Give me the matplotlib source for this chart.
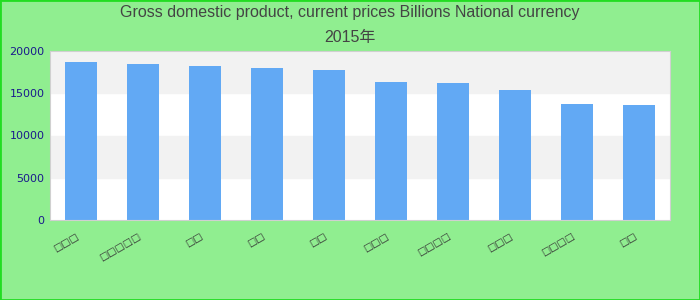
import matplotlib
matplotlib.use("Agg")
import matplotlib.pyplot as plt
from matplotlib.patches import Rectangle

# labels in the reference are unreadable (missing glyphs), char counts kept
labels = ["□□□", "□□□□□", "□□", "□□", "□□", "□□□", "□□□□", "□□□", "□□□□", "□□"]
values = [18650, 18420, 18180, 17940, 17700, 16390, 16270, 15440, 13770, 13650]
yticks = [0, 5000, 10000, 15000, 20000]
title = "Gross domestic product, current prices Billions National currency\n2015年"

fig = plt.figure(figsize=(7, 3), dpi=100, facecolor="#90EE90")
fig.patches.append(Rectangle((0, 0), 1, 1, transform=fig.transFigure,
                             fill=False, edgecolor="#22DD22", linewidth=2))
ax = fig.add_axes([50/700, 80/300, 620/700, 169/300])
ax.set_facecolor("white")

# alternating bands
for i in range(len(yticks) - 1):
    if i % 2 == 1:
        ax.axhspan(yticks[i], yticks[i + 1], color="#F2F2F2", zorder=0)

x = range(len(values))
ax.bar(x, values, width=0.52, color="#62A9F4", zorder=2)
ax.set_xlim(-0.5, len(values) - 0.5)
ax.set_ylim(0, 20000)
ax.set_yticks(yticks)
ax.set_yticklabels([str(v) for v in yticks], color="#1A1A8C", fontsize=8)
ax.set_xticks(list(x))
ax.set_xticklabels(labels, rotation=30, ha="right", fontsize=7, color="#333333")
ax.tick_params(length=0, pad=4)
ax.tick_params(axis="x", pad=8)
for s in ax.spines.values():
    s.set_color("#D0D0D0")

fig.text(0.5, 0.985, title, ha="center", va="top", fontsize=11.5, color="#444444",
         family=["Liberation Sans", "Noto Sans CJK SC"], linespacing=1.9)

fig.savefig("out.png", dpi=100, facecolor=fig.get_facecolor())
